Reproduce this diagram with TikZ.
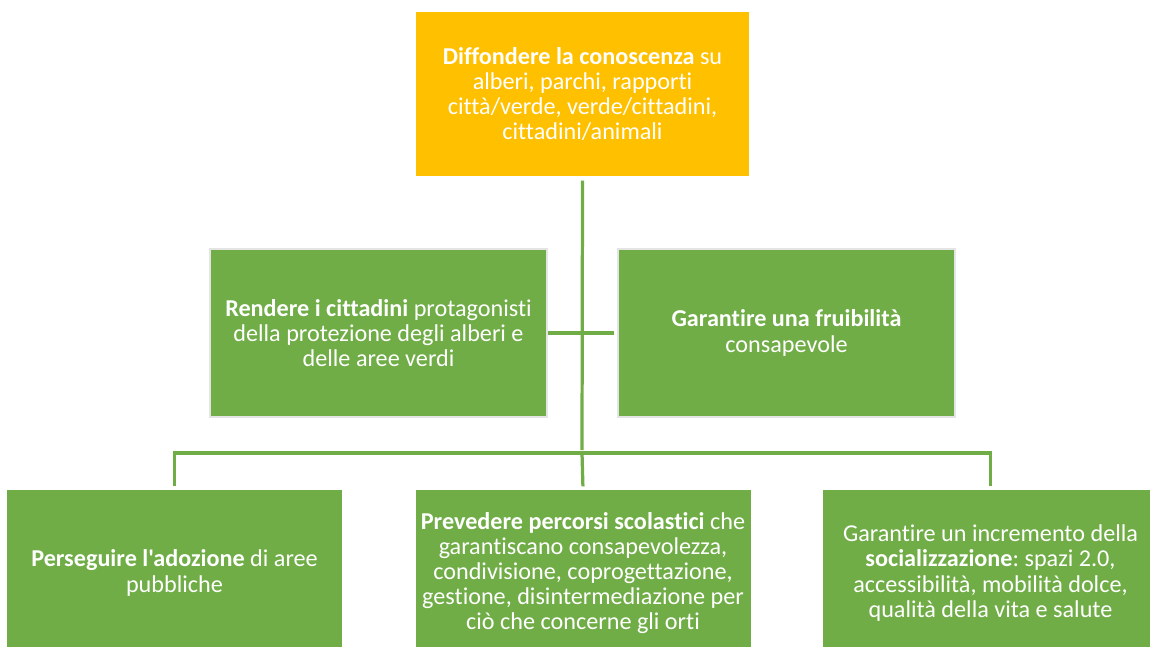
\documentclass[tikz,border=0pt]{standalone}
\usepackage{fontspec}
\setmainfont[Ligatures={TeXOff,NoCommon,NoRequired,NoContextual}]{Carlito}
\frenchspacing
\definecolor{goalgreen}{HTML}{70AD47}
\definecolor{goalyellow}{HTML}{FFC000}
\definecolor{edgegrey}{HTML}{E4E4E4}
\begin{document}
\begin{tikzpicture}[
    x=0.025cm, y=-0.025cm,
    goal/.style={rectangle, draw=edgegrey, line width=1.2pt, fill=goalgreen, text=white, minimum width=335*0.025cm, minimum height=166*0.025cm, align=center, font=\fontsize{17.2pt}{17.9pt}\selectfont, inner sep=0pt},
    link/.style={draw=goalgreen, line width=2.3pt, shorten <=2pt, shorten >=2pt}
]
\useasboundingbox (0,0) rectangle (1150,646);
% Top goal
\node[goal, fill=goalyellow, draw=white] (top) at (582.5, 94) {\textbf{Diffondere la conoscenza} su\\alberi, parchi, rapporti\\città/verde, verde/cittadini,\\cittadini/animali};
% Middle row
\node[goal, minimum width=337*0.025cm, minimum height=168*0.025cm] (ml) at (378.5, 333) {\textbf{Rendere i cittadini} protagonisti\\della protezione degli alberi e\\delle aree verdi};
\node[goal, minimum width=337*0.025cm, minimum height=168*0.025cm] (mr) at (786.5, 333) {\textbf{Garantire una fruibilità}\\consapevole};
% Bottom row
\node[goal, draw=none] (bl) at (174.5, 573) {\textbf{Perseguire l'adozione} di aree\\pubbliche};
\node[goal, draw=none] (bm) at (583, 573) {\textbf{Prevedere percorsi scolastici} che\\garantiscano consapevolezza,\\condivisione, coprogettazione,\\gestione, disintermediazione per\\ciò che concerne gli orti};
\node[goal, draw=none] (br) at (990.5, 573) {Garantire un incremento della\\\textbf{socializzazione}: spazi 2.0,\\accessibilità, mobilità dolce,\\qualità della vita e salute};

\coordinate (bus) at (582, 453);
\draw[link] (top.south) -- (bus);
\draw[link, shorten <=0pt] (ml.east) -- (mr.west);
\draw[link, shorten <=0pt] (bus) -- (bm.north);
\draw[link, shorten <=0pt] (bus) -| (bl.north);
\draw[link, shorten <=0pt] (bus) -| (br.north);
\end{tikzpicture}
\end{document}
